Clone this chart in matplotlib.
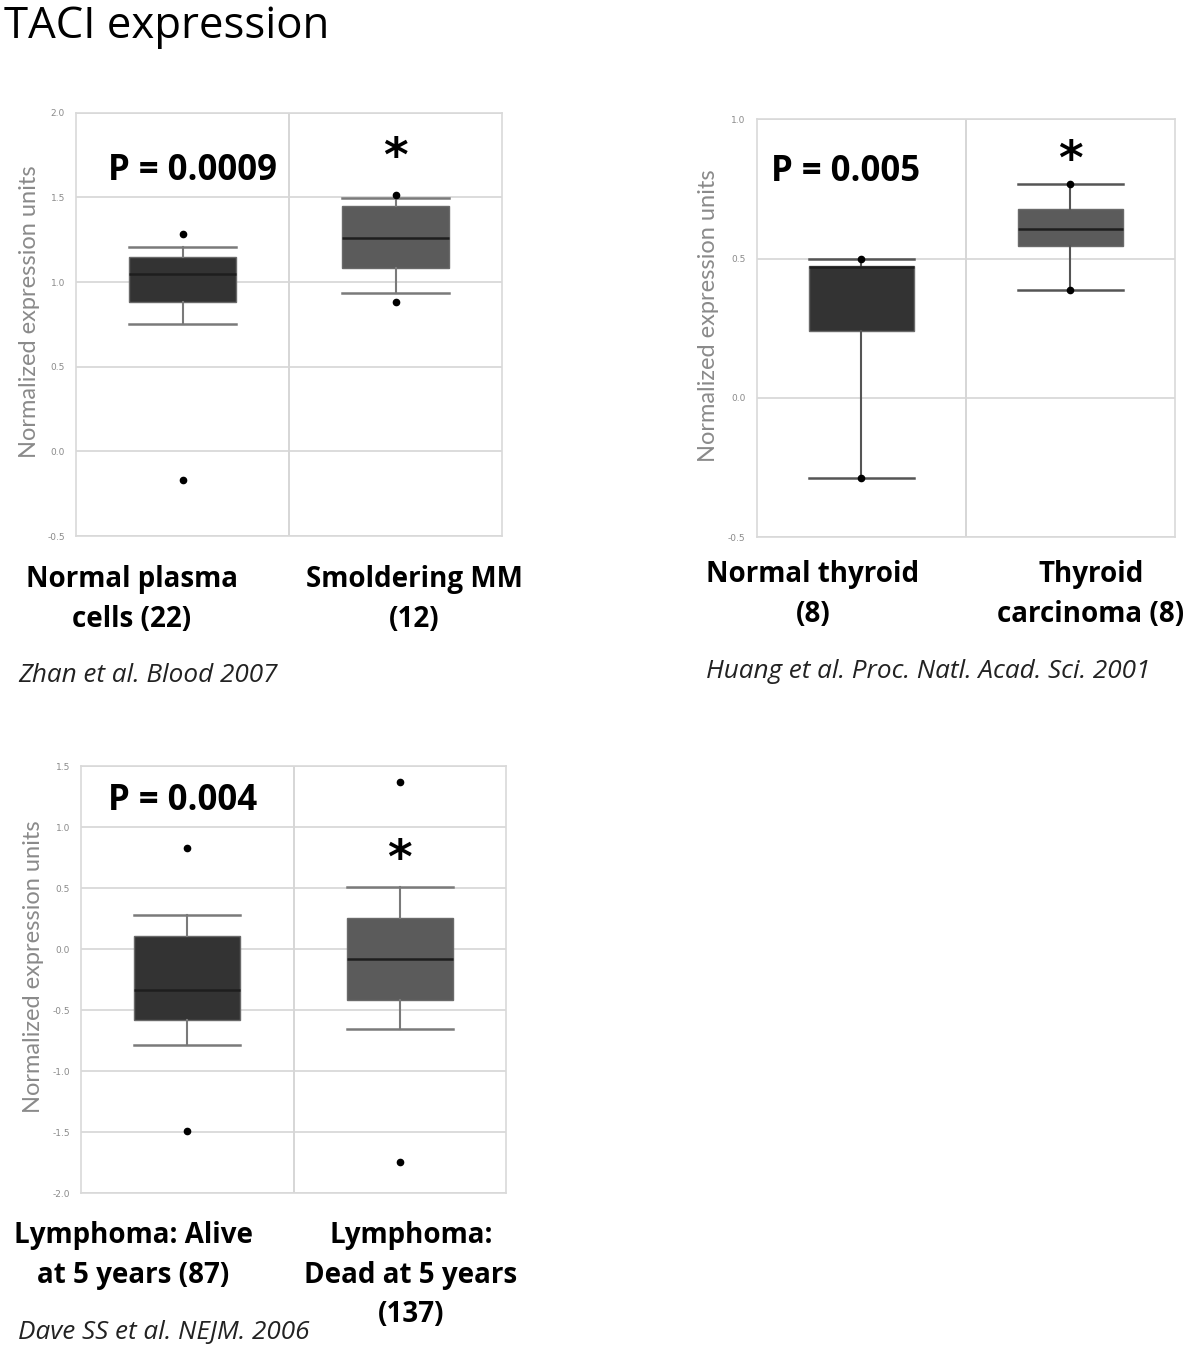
import matplotlib
matplotlib.use("Agg")
import matplotlib.pyplot as plt

# box stats: [whislo, q1, median, q3, whishi], outliers
plasma_stats = [0.75, 0.88, 1.045, 1.145, 1.205]
plasma_fliers = [1.283, -0.17]
smm_stats = [0.937, 1.081, 1.258, 1.449, 1.494]
smm_fliers = [1.516, 0.882]

thyroid_stats = [-0.288, 0.242, 0.47, 0.474, 0.499]
thyroid_fliers = [0.5, -0.288]
carcinoma_stats = [0.389, 0.547, 0.605, 0.679, 0.767]
carcinoma_fliers = [0.767, 0.389]

alive_stats = [-0.785, -0.58, -0.335, 0.11, 0.28]
alive_fliers = [0.83, -1.49]
dead_stats = [-0.657, -0.416, -0.083, 0.258, 0.507]
dead_fliers = [1.366, -1.74]

panel1_labels = ["Normal plasma\ncells (22)", "Smoldering MM\n(12)"]
panel2_labels = ["Normal thyroid\n(8)", "Thyroid\ncarcinoma (8)"]
panel3_labels = ["Lymphoma: Alive\nat 5 years (87)", "Lymphoma:\nDead at 5 years\n(137)"]

panel1_ticks = [-0.5, 0.0, 0.5, 1.0, 1.5, 2.0]
panel2_ticks = [-0.5, 0.0, 0.5, 1.0]
panel3_ticks = [-2.0, -1.5, -1.0, -0.5, 0.0, 0.5, 1.0, 1.5]

W, H = 1200, 1352
fig = plt.figure(figsize=(W / 100, H / 100), dpi=100)
fig.patch.set_facecolor("white")

box_colors = ["#333333", "#5b5b5b"]
font = "Open Sans"


def make_stats(s, fl):
    return {"whislo": s[0], "q1": s[1], "med": s[2], "q3": s[3], "whishi": s[4], "fliers": fl}


def panel(px, ticks, groups, pval, pxy, star_y, whisk_col, lab_x):
    left, right, top, bottom = px
    ax = fig.add_axes([left / W, 1 - bottom / H, (right - left) / W, (bottom - top) / H])
    stats = [make_stats(s, f) for s, f in groups]
    res = ax.bxp(stats, positions=[1, 2], widths=0.5, capwidths=0.5, patch_artist=True,
                 showfliers=True,
                 medianprops=dict(color="#1e1e1e", lw=1.8),
                 whiskerprops=dict(color=whisk_col, lw=1.5),
                 capprops=dict(color=whisk_col, lw=1.8),
                 flierprops=dict(marker="o", markerfacecolor="black", markeredgecolor="black",
                                 markersize=4.5))
    for patch, c in zip(res["boxes"], box_colors):
        patch.set_facecolor(c)
        patch.set_edgecolor("#6a6a6a")
        patch.set_linewidth(1.0)
    ax.set_xlim(0.5, 2.5)
    ax.set_ylim(ticks[0], ticks[-1])
    ax.set_yticks(ticks)
    ax.set_yticklabels(["%.1f" % t for t in ticks])
    ax.tick_params(axis="y", length=0, labelsize=6.5, labelcolor="#8a8a8a", pad=8)
    ax.set_xticks([])
    ax.grid(axis="y", color="#d6d6d6", lw=1.2)
    ax.axvline(1.5, color="#cfcfcf", lw=1.2, zorder=0)
    ax.set_axisbelow(True)
    for sp in ax.spines.values():
        sp.set_color("#d9d9d9")
        sp.set_linewidth(1.2)
    ax.set_ylabel("Normalized expression units", fontsize=17, color="#8a8a8a", family="Lato")
    ax.yaxis.set_label_coords(-(left - lab_x) / (right - left), 0.53)
    ax.text(pxy[0], pxy[1], pval, transform=ax.transAxes,
            fontsize=25, fontweight="bold", family=font, va="center", ha="left")
    ax.text(2, star_y, "*", fontsize=34, fontweight="bold", ha="center", va="center",
            family="DejaVu Sans")
    return ax


ax1 = panel((76, 502, 112.7, 536), panel1_ticks,
            [(plasma_stats, plasma_fliers), (smm_stats, smm_fliers)], "P = 0.0009",
            (0.075, 0.862), 1.732, "#7a7a7a", 40)
ax2 = panel((756.7, 1175, 119.3, 537.3), panel2_ticks,
            [(thyroid_stats, thyroid_fliers), (carcinoma_stats, carcinoma_fliers)], "P = 0.005",
            (0.035, 0.875), 0.85, "#555555", 719)
ax3 = panel((81, 506, 766, 1193.3), panel3_ticks,
            [(alive_stats, alive_fliers), (dead_stats, dead_fliers)], "P = 0.004",
            (0.063, 0.917), 0.722, "#7a7a7a", 44)


def ftext(x, y, s, **kw):
    fig.text(x / W, 1 - y / H, s, **kw)


ftext(4, 27, "TACI expression", fontsize=31.5, family=font, va="center", ha="left")

lab_kw = dict(fontsize=20, fontweight="bold", family=font, ha="center", va="top", linespacing=1.48)
ftext(132, 565, panel1_labels[0], **lab_kw)
ftext(414, 565, panel1_labels[1], **lab_kw)
ftext(813, 560, panel2_labels[0], **lab_kw)
ftext(1091, 560, panel2_labels[1], **lab_kw)
ftext(133, 1221, panel3_labels[0], **lab_kw)
ftext(411, 1221, panel3_labels[1], **lab_kw)

cite_kw = dict(fontsize=18.8, style="italic", family=font, color="#222222", va="center", ha="left")
ftext(18, 675, "Zhan et al. Blood 2007", **cite_kw)
ftext(706, 672, "Huang et al. Proc. Natl. Acad. Sci. 2001", **cite_kw)
ftext(18, 1332, "Dave SS et al. NEJM. 2006", **cite_kw)

fig.savefig("out.png", dpi=100, facecolor="white")
